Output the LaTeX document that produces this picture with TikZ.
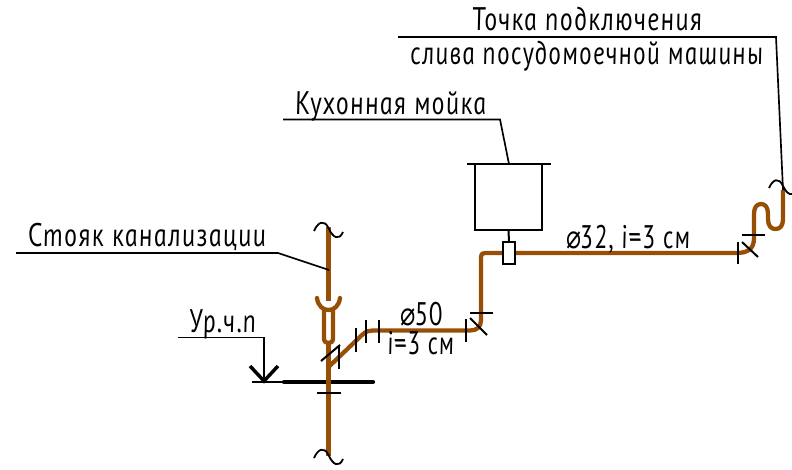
\documentclass[tikz,border=0pt]{standalone}
\usepackage{fontspec}
\usepackage{graphicx}
\newfontfamily\gost[FakeSlant=-0.18,LetterSpace=5]{PT Sans Italic}
\newfontfamily\gostsym{DejaVu Sans}
\definecolor{pipe}{HTML}{964F05}
\newdimen\mypx \mypx=0.75pt
\newcommand{\gt}[2]{\resizebox{#1\mypx}{\height}{\gost #2}}
\newcommand{\dia}{{\gostsym ⌀}}
\tikzset{
  x=0.75pt,y=-0.75pt,
  pipeline/.style={draw=pipe,line width=3.2pt,line join=round},
  thin line/.style={draw=black,line width=1.5pt},
  leader/.style={draw=black,line width=1.25pt},
  squig/.style={draw=black,line width=1.35pt},
  lbl/.style={anchor=base west,inner sep=0pt,outer sep=0pt,font=\fontsize{24.5}{24.5}\selectfont},
  sinkbox/.style={draw=black,line width=1.5pt,fill=white,inner sep=0pt,minimum width=50.25pt,minimum height=49.5pt},
  valvebox/.style={draw=black,line width=1.5pt,fill=white,inner sep=0pt,minimum width=9pt,minimum height=16.5pt},
}
\begin{document}
\begin{tikzpicture}
\useasboundingbox[fill=white] (0,0) rectangle (792,469);
% riser coordinates
\coordinate (rtop) at (328.5,227);
\coordinate (rbot) at (328.5,456);
\coordinate (ledge) at (16,253);
\coordinate (lbend) at (278,253);
\coordinate (lend) at (329,270);
% floor
\draw[draw=black,line width=1.1pt] (252,382) -- (284,382);
\draw[draw=black,line width=3.2pt,line cap=round] (284,382) -- (373,382);
% riser pipe
\draw[pipeline] (rtop) -- (328.5,301);
\draw[pipeline,line cap=round] (317,298) .. controls (318,306) and (323,310) .. (328.5,310) .. controls (334,310) and (339,306) .. (340,298);
\draw[pipeline] (324,310) -- (324,338) .. controls (324,342) and (326,343) .. (328.5,343) .. controls (331,343) and (333,342) .. (333,338) -- (333,310);
\draw[pipeline] (328.5,343) -- (rbot);
% branch
\draw[pipeline] (328.5,367) -- (362,335) .. controls (366,331) and (369,330.5) .. (375,330.5) -- (470,330.5) .. controls (477,330.5) and (481,327) .. (481,320) -- (481,257) .. controls (481,254) and (482,253) .. (485,253) -- (504,253);
\draw[pipeline] (514,253) -- (736,253) .. controls (748,253) and (754,249) .. (754,238) -- (754,214) .. controls (754,207) and (757,204) .. (761,204) .. controls (765,204) and (768,207) .. (768,214) -- (768,219) .. controls (768,226) and (771,229) .. (775.5,229) .. controls (780,229) and (783,226) .. (783,219) -- (783,190);
% sink and valve
\node[sinkbox] (sink) at (508.5,197) {};
\node[valvebox] (valve) at (509,253) {};
\draw[thin line] (467,164) -- (551,164);
\draw[thin line] (sink.south) -- (valve.north);
% ticks
\draw[thin line] (321,361) -- (340,345);
\draw[thin line] (339,345) -- (339,369);
\draw[thin line] (356,328) -- (356,352);
\draw[thin line] (366,320) -- (366,343);
\draw[thin line] (379,320) -- (379,343);
\draw[thin line] (466,319) -- (466,342);
\draw[thin line] (470,313) -- (493,313);
\draw[thin line] (470,318) -- (487,335);
\draw[thin line] (317,393) -- (341,393);
\draw[thin line] (738,242) -- (738,264);
\draw[thin line] (742,235) -- (765,235);
\draw[thin line] (742,242) -- (758,257);
% break marks
\draw[squig] (314,231) .. controls (318,222) and (324,219) .. (328.5,228) .. controls (333,238) and (339,241) .. (343,232);
\draw[squig] (314,458) .. controls (318,449) and (324,446) .. (328.5,455) .. controls (333,465) and (339,468) .. (343,459);
\draw[squig] (769,188) .. controls (773,179) and (779,177) .. (783,186) .. controls (786,192) and (789,195) .. (792,194);
% level mark
\coordinate (lvla) at (178,337.5);
\coordinate (lvlb) at (264,337.5);
\coordinate (lvlc) at (264,381);
\draw[leader] (lvla) -- (lvlb) -- (lvlc);
\draw[draw=black,line width=2.6pt] (250,366) -- (lvlc) -- (278,366);
% leaders
\draw[leader] (ledge) -- (lbend) -- (lend);
\coordinate (ka) at (283,119.5);
\coordinate (kb) at (500,119.5);
\coordinate (kc) at (509,164);
\draw[leader] (ka) -- (kb) -- (kc);
\coordinate (ta) at (398,37);
\coordinate (tb) at (776,37);
\coordinate (tc) at (783,190);
\draw[leader] (ta) -- (tb) -- (tc);
% labels
\node[lbl] (t1) at (473,30) {\gt{230}{Точка подключения}};
\node[lbl] (t2) at (411,64) {\gt{353}{слива посудомоечной машины}};
\node[lbl] (t3) at (296,114) {\gt{191}{Кухонная мойка}};
\node[lbl] (t4) at (29,246) {\gt{238}{Стояк канализации}};
\node[lbl] (t5) at (190,332) {\gt{67}{Ур.ч.п}};
\node[lbl] (t6) at (400,325) {\gt{43}{\dia50}};
\node[lbl] (t7) at (388,354) {\gt{67}{i=3 см}};
\node[lbl] (t8) at (566,248) {\gt{125}{\dia32, i=3 см}};
\end{tikzpicture}
\end{document}
